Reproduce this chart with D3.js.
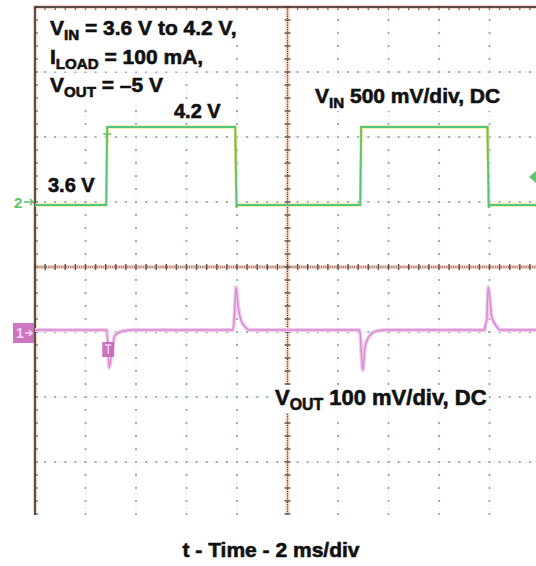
<!DOCTYPE html>
<html>
<head>
<meta charset="utf-8">
<script src="https://cdn.jsdelivr.net/npm/d3@7"></script>
<style>
  body { margin: 0; background: #fff; }
  svg { display: block; }
  text { font-family: Arial, Helvetica, "Liberation Sans", sans-serif; font-weight: bold; fill: #111; }
</style>
</head>
<body>
<script>
// scope capture: VIN step 3.6 V <-> 4.2 V, VOUT ripple at the edges
// time in ms, 2 ms/div, 10 divisions
var vinTime = [0, 2.82, 2.86, 7.93, 7.98, 8.02, 12.88, 12.92, 17.92, 17.97, 18.02, 20.2];
var vinVolt = [3.6, 3.6, 4.2, 4.2, 3.58, 3.6, 3.6, 4.2, 4.2, 3.58, 3.6, 3.6];

// VOUT deviation in mV (100 mV/div)
var voutTime = [0, 2.84, 2.94, 3.05, 3.17, 3.49, 3.9, 7.84, 7.9, 7.96, 8.04, 8.16, 8.32, 8.51,
                12.84, 12.87, 12.98, 13.07, 13.27, 13.53, 13.9, 17.8, 17.84, 17.89, 17.95, 18.09, 18.29, 18.42, 20.2];
var voutMv   = [0, 0, -58, -31, -8, -1.5, 0, 0, 23, 66, 38, 15, 5, 0,
                0, -3, -62, -26, -8, -1.5, 0, 0, 8, 15, 66, 20, 5, 0, 0];

var infoLines = [
  [["V", 0], ["IN", 1], [" = 3.6 V to 4.2 V,", 0]],
  [["I", 0], ["LOAD", 1], [" = 100 mA,", 0]],
  [["V", 0], ["OUT", 1], [" = \u20135 V", 0]]
];
var levelLabels = ["4.2 V", "3.6 V"];
var vinLabel = [["V", 0], ["IN", 1], [" 500 mV/div, DC", 0]];
var voutLabel = [["V", 0], ["OUT", 1], [" 100 mV/div, DC", 0]];
var xTitle = "t - Time - 2 ms/div";

var width = 536, height = 566;
// note: "top" is taken by window.top, so plotTop
var plotLeft = 35, plotTop = 7, plotRight = 540, plotBottom = 527, clipBottom = 515;

var svg = d3.select("body").append("svg")
    .attr("width", width)
    .attr("height", height);

svg.append("defs").append("clipPath").attr("id", "plotClip")
  .append("rect").attr("x", plotLeft - 2).attr("y", 0).attr("width", width - plotLeft + 2).attr("height", clipBottom);

// screen grid in divisions
var gx = d3.scaleLinear().domain([0, 10]).range([plotLeft, plotRight]);
var gy = d3.scaleLinear().domain([0, 8]).range([plotTop, plotBottom]);

// data scales
var x = d3.scaleLinear().domain([0, 20]).range([plotLeft, plotRight]);
var yIn = d3.scaleLinear().domain([3.6, 4.2]).range([205, 127]);
var yOut = d3.scaleLinear().domain([-100, 100]).range([395, 265]);

var plot = svg.append("g").attr("clip-path", "url(#plotClip)");

// dotted grid lines
var minorX = d3.range(0, 10.01, 0.2), minorY = d3.range(0, 8.01, 0.2);
d3.range(1, 10).filter(function(i){ return i != 5; }).forEach(function(i){
  plot.append("line")
    .attr("x1", gx(i)).attr("x2", gx(i)).attr("y1", plotTop).attr("y2", plotBottom)
    .attr("stroke", "#dbe4ea").attr("stroke-dasharray", "1,2.5");
  plot.selectAll(null).data(minorY).enter().append("rect")
    .attr("x", gx(i) - 1).attr("y", function(d){ return gy(d) - 1; })
    .attr("width", 2).attr("height", 2).attr("fill", "#9db0bc");
});
d3.range(1, 8).filter(function(i){ return i != 4; }).forEach(function(i){
  plot.append("line")
    .attr("x1", plotLeft).attr("x2", plotRight).attr("y1", gy(i)).attr("y2", gy(i))
    .attr("stroke", "#d0dbe2").attr("stroke-dasharray", "1,1.5");
  plot.selectAll(null).data(minorX).enter().append("rect")
    .attr("x", function(d){ return gx(d) - 1; }).attr("y", gy(i) - 1)
    .attr("width", 2).attr("height", 2).attr("fill", "#9db0bc");
});

// center axes with minor ticks
plot.append("line")
  .attr("x1", plotLeft).attr("x2", plotRight).attr("y1", gy(4)).attr("y2", gy(4))
  .attr("stroke", "#f6cdbd").attr("stroke-width", 4);
plot.append("line")
  .attr("x1", gx(5)).attr("x2", gx(5)).attr("y1", plotTop).attr("y2", plotBottom)
  .attr("stroke", "#f6cdbd").attr("stroke-width", 4);
plot.append("line")
  .attr("x1", plotLeft).attr("x2", plotRight).attr("y1", gy(4)).attr("y2", gy(4))
  .attr("stroke", "#333").attr("stroke-dasharray", "1,1.2");
plot.append("line")
  .attr("x1", gx(5)).attr("x2", gx(5)).attr("y1", plotTop).attr("y2", plotBottom)
  .attr("stroke", "#333").attr("stroke-dasharray", "1,1.2");
plot.selectAll(null).data(minorX).enter().append("line")
  .attr("x1", function(d){ return gx(d); }).attr("x2", function(d){ return gx(d); })
  .attr("y1", gy(4) - 3).attr("y2", gy(4) + 3)
  .attr("stroke", "#555").attr("stroke-width", 1.4);
plot.selectAll(null).data(minorY).enter().append("line")
  .attr("x1", gx(5) - 3).attr("x2", gx(5) + 3)
  .attr("y1", function(d){ return gy(d); }).attr("y2", function(d){ return gy(d); })
  .attr("stroke", "#555").attr("stroke-width", 1.4);

// frame on left and top, with ticks
plot.selectAll(null).data(minorY).enter().append("line")
  .attr("x1", plotLeft).attr("x2", plotLeft + 3)
  .attr("y1", function(d){ return gy(d); }).attr("y2", function(d){ return gy(d); })
  .attr("stroke", "#666").attr("stroke-width", 1.4);
plot.selectAll(null).data(minorX).enter().append("line")
  .attr("x1", function(d){ return gx(d); }).attr("x2", function(d){ return gx(d); })
  .attr("y1", plotTop).attr("y2", plotTop + 3)
  .attr("stroke", "#666").attr("stroke-width", 1.4);
plot.append("path")
  .attr("d", "M" + plotLeft + "," + clipBottom + "V" + plotTop + "H" + plotRight)
  .attr("fill", "none").attr("stroke", "#f0a080").attr("stroke-width", 3.5).attr("stroke-opacity", 0.6);
plot.append("path")
  .attr("d", "M" + plotLeft + "," + clipBottom + "V" + plotTop + "H" + plotRight)
  .attr("fill", "none").attr("stroke", "#2a2a2a").attr("stroke-width", 1.5);

// traces
var vinLine = d3.line()
  .x(function(d, i){ return x(vinTime[i]); })
  .y(function(d){ return yIn(d); });
plot.append("path").datum(vinVolt)
  .attr("d", vinLine).attr("fill", "none")
  .attr("stroke", "#e8e070").attr("stroke-width", 3);
plot.append("path").datum(vinVolt)
  .attr("d", vinLine).attr("fill", "none")
  .attr("stroke", "#55c47c").attr("stroke-width", 1.8);

var voutLine = d3.line()
  .x(function(d, i){ return x(voutTime[i]); })
  .y(function(d){ return yOut(d); })
  .curve(d3.curveMonotoneX);
plot.append("path").datum(voutMv)
  .attr("d", voutLine).attr("fill", "none")
  .attr("stroke", "#f0cbec").attr("stroke-width", 4);
plot.append("path").datum(voutMv)
  .attr("d", voutLine).attr("fill", "none")
  .attr("stroke", "#d88ad0").attr("stroke-width", 1.4);

// channel and trigger markers
var green = "#5cc46a", pink = "#c766b9";
svg.append("text").attr("x", 14).attr("y", yIn(3.6) + 3).attr("font-size", 15)
  .style("fill", green).text("2");
svg.append("path")
  .attr("d", "M24," + (yIn(3.6) - 3) + "H33M30," + (yIn(3.6) - 6) + "L33," + (yIn(3.6) - 3) + "L30," + yIn(3.6))
  .attr("fill", "none").attr("stroke", green).attr("stroke-width", 1.6);

svg.append("rect").attr("x", 13).attr("y", yOut(0) - 7).attr("width", 21).attr("height", 20)
  .attr("fill", pink).attr("opacity", 0.9);
svg.append("text").attr("x", 16).attr("y", yOut(0) + 8).attr("font-size", 14)
  .style("fill", "#f6d8f2").text("1");
svg.append("path")
  .attr("d", "M25," + (yOut(0) + 3) + "H32M29," + yOut(0) + "L32," + (yOut(0) + 3) + "L29," + (yOut(0) + 6))
  .attr("fill", "none").attr("stroke", "#f6d8f2").attr("stroke-width", 1.4);

var trig = x(vinTime[2]);
svg.append("rect").attr("x", trig - 5).attr("y", 342).attr("width", 12).attr("height", 15)
  .attr("fill", pink).attr("opacity", 0.9);
svg.append("path").attr("d", "M" + (trig - 2) + ",345H" + (trig + 4) + "M" + (trig + 1) + ",345V354")
  .attr("stroke", "#f6d8f2").attr("stroke-width", 1.4);
svg.append("path").attr("d", "M" + (trig - 4) + ",134H" + (trig + 4) + "M" + trig + ",134V141")
  .attr("stroke", green).attr("stroke-width", 1.6);
svg.append("path").attr("d", "M529,177L536,171V183Z").attr("fill", green);

// labels with white backing; a thin stroke thickens the glyphs
function richText(parts, px, py, size, anchor){
  var t = svg.append("text").attr("x", px).attr("y", py).attr("font-size", size)
    .attr("text-anchor", anchor || "start")
    .style("stroke", "#111").style("stroke-width", 0.6);
  parts.forEach(function(p, k){
    var s = t.append("tspan").text(p[0]);
    if (p[1]) s.attr("font-size", size * 0.72).attr("dy", 5);
    else if (k > 0) s.attr("dy", -5);
  });
  var b = t.node().getBBox();
  svg.insert("rect", function(){ return t.node(); })
    .attr("x", b.x - 2).attr("y", b.y).attr("width", b.width + 4).attr("height", b.height)
    .attr("fill", "#fff");
  return t;
}

infoLines.forEach(function(line, i){ richText(line, 50, 35 + i * 28.5, 21); });
richText([[levelLabels[0], 0]], 174, 118, 20);
richText([[levelLabels[1], 0]], 48, 192, 20);
richText(vinLabel, 315, 103, 21);
richText(voutLabel, 275, 405, 22);

richText([[xTitle, 0]], 271, 557, 21, "middle");
</script>
</body>
</html>
